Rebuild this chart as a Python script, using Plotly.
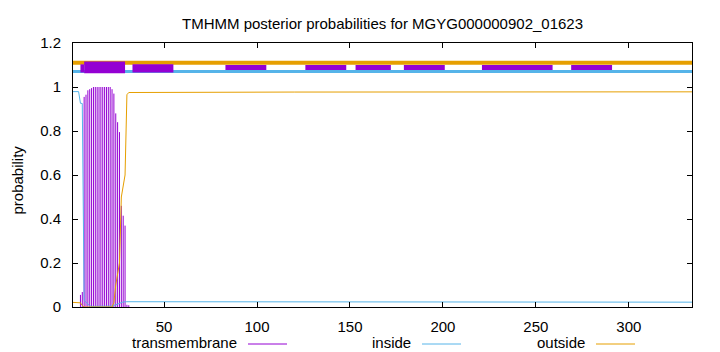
import plotly.graph_objects as go

# ---------------- data ----------------
seq_len = 334
title_text = "TMHMM posterior probabilities for MGYG000000902_01623"

# transmembrane posterior probability (impulses), residues 5..31 (zero elsewhere)
tm_res = [5, 6, 7, 8, 9, 10, 11, 12, 13, 14, 15, 16, 17, 18, 19, 20, 21, 22,
          23, 24, 25, 26, 27, 28, 29, 30, 31]
tm_prob = [0.055, 0.068, 0.955, 0.965, 0.985, 0.99, 0.995, 1.0, 1.0, 1.0, 1.0,
           1.0, 1.0, 1.0, 1.0, 1.0, 1.0, 0.99, 0.97, 0.88, 0.84, 0.795, 0.46,
           0.415, 0.37, 0.01, 0.008]

# inside posterior probability (residue, value) at change points
inside_res = [1, 4, 5, 6, 7, 8, 9, 10, 11, 21, 22, 24, 26, 28, 30, 120, 334]
inside_prob = [0.979, 0.979, 0.926, 0.925, 0.03, 0.02, 0.01, 0.005, 0.003,
               0.002, 0.004, 0.01, 0.018, 0.023, 0.024, 0.023, 0.022]

# outside posterior probability (residue, value) at change points
outside_res = [1, 4, 5, 6, 7, 22, 23, 24, 25, 26, 27, 28, 29, 30, 31, 120, 334]
outside_prob = [0.021, 0.021, 0.019, 0.007, 0.0, 0.0, 0.02, 0.1, 0.15, 0.2,
                0.5, 0.56, 0.6, 0.965, 0.975, 0.977, 0.978]

# topology track levels
outside_level = 1.11
inside_level = 1.071

# predicted segments in the topology track (start, end)
seg_start = [5, 7, 33, 83, 126, 153, 179, 221, 269]
seg_end = [7, 29, 55, 105, 148, 172, 201, 259, 291]
seg_low = [1.066, 1.0625, 1.066, 1.068, 1.068, 1.068, 1.068, 1.068, 1.068]
seg_high = [1.103, 1.116, 1.103, 1.10, 1.10, 1.10, 1.10, 1.10, 1.10]
seg_front = [True, True, True, False, False, False, False, False, False]

x_ticks = [50, 100, 150, 200, 250, 300]
y_ticks = [0, 0.2, 0.4, 0.6, 0.8, 1.0, 1.2]

legend_names = ["transmembrane", "inside", "outside"]

# ---------------- style ----------------
C_TM = "#9400D3"
C_IN = "#56B4E9"
C_OUT = "#E69F00"
FONT = "Liberation Sans, Arial, sans-serif"
FS = 15

W, H = 720, 352
L, R, T, B = 73, 28, 43, 45
pw = W - L - R
ph = H - T - B


def px2paper_x(px):
    return (px - L) / pw


def px2paper_y(py):
    return (H - B - py) / ph


fig = go.Figure()

# impulses for transmembrane
imp_x, imp_y = [], []
for r, p in zip(tm_res, tm_prob):
    imp_x += [r, r, None]
    imp_y += [0, p, None]
fig.add_trace(go.Scatter(x=imp_x, y=imp_y, mode="lines",
                         line=dict(color=C_TM, width=1), hoverinfo="skip",
                         showlegend=False))

fig.add_trace(go.Scatter(x=inside_res, y=inside_prob, mode="lines",
                         line=dict(color=C_IN, width=1), showlegend=False))
fig.add_trace(go.Scatter(x=outside_res, y=outside_prob, mode="lines",
                         line=dict(color=C_OUT, width=1), showlegend=False))

# topology track lines
fig.add_trace(go.Scatter(x=[1, seq_len], y=[outside_level, outside_level],
                         mode="lines", line=dict(color=C_OUT, width=4),
                         showlegend=False))
fig.add_trace(go.Scatter(x=[1, seq_len], y=[inside_level, inside_level],
                         mode="lines", line=dict(color=C_IN, width=3),
                         showlegend=False))

shapes = []
for s, e, lo, hi, front in zip(seg_start, seg_end, seg_low, seg_high, seg_front):
    shapes.append(dict(type="rect", xref="x", yref="y", x0=s, x1=e, y0=lo, y1=hi,
                       fillcolor=C_TM, line=dict(width=0),
                       layer="above" if front else "below"))

# legend (gnuplot style: text then line sample)
legend_text_right = [238.5, 412.7, 587.2]
legend_line = [(248, 287), (422, 461), (596, 635)]
legend_cols = [C_TM, C_IN, C_OUT]
legend_y = 344
annotations = []
for name, xr, (a, b), c in zip(legend_names, legend_text_right, legend_line, legend_cols):
    annotations.append(dict(text=name, xref="paper", yref="paper",
                            x=px2paper_x(xr), y=px2paper_y(legend_y - 1),
                            xanchor="right", yanchor="middle", showarrow=False,
                            font=dict(family=FONT, size=FS, color="black")))
    shapes.append(dict(type="line", xref="paper", yref="paper",
                       x0=px2paper_x(a), x1=px2paper_x(b),
                       y0=px2paper_y(legend_y), y1=px2paper_y(legend_y),
                       line=dict(color=c, width=1)))

annotations.append(dict(text=title_text, xref="paper", yref="paper",
                        x=0.5, y=px2paper_y(23), xanchor="center", yanchor="middle",
                        showarrow=False,
                        font=dict(family=FONT, size=FS, color="black")))
annotations.append(dict(text="probability", xref="paper", yref="paper",
                        x=px2paper_x(16.5), y=px2paper_y(180), textangle=-90,
                        xanchor="center", yanchor="middle", showarrow=False,
                        font=dict(family=FONT, size=FS, color="black")))

fig.update_layout(
    width=W, height=H,
    margin=dict(l=L, r=R, t=T, b=B, pad=0),
    paper_bgcolor="white", plot_bgcolor="white",
    showlegend=False,
    shapes=shapes, annotations=annotations,
    font=dict(family=FONT, size=FS, color="black"),
)
fig.update_xaxes(range=[1, seq_len], tickvals=x_ticks, ticks="inside", ticklen=5,
                 tickcolor="black", showline=True, linecolor="black", linewidth=1,
                 mirror="allticks", showgrid=False, zeroline=False,
                 ticklabelstandoff=6,
                 tickfont=dict(family=FONT, size=FS, color="black"))
fig.update_yaxes(range=[0, 1.2], tickvals=y_ticks, ticks="inside", ticklen=5,
                 tickcolor="black", showline=True, linecolor="black", linewidth=1,
                 mirror="allticks", showgrid=False, zeroline=False,
                 ticklabelstandoff=8,
                 tickfont=dict(family=FONT, size=FS, color="black"))

fig.write_html("out.html")
